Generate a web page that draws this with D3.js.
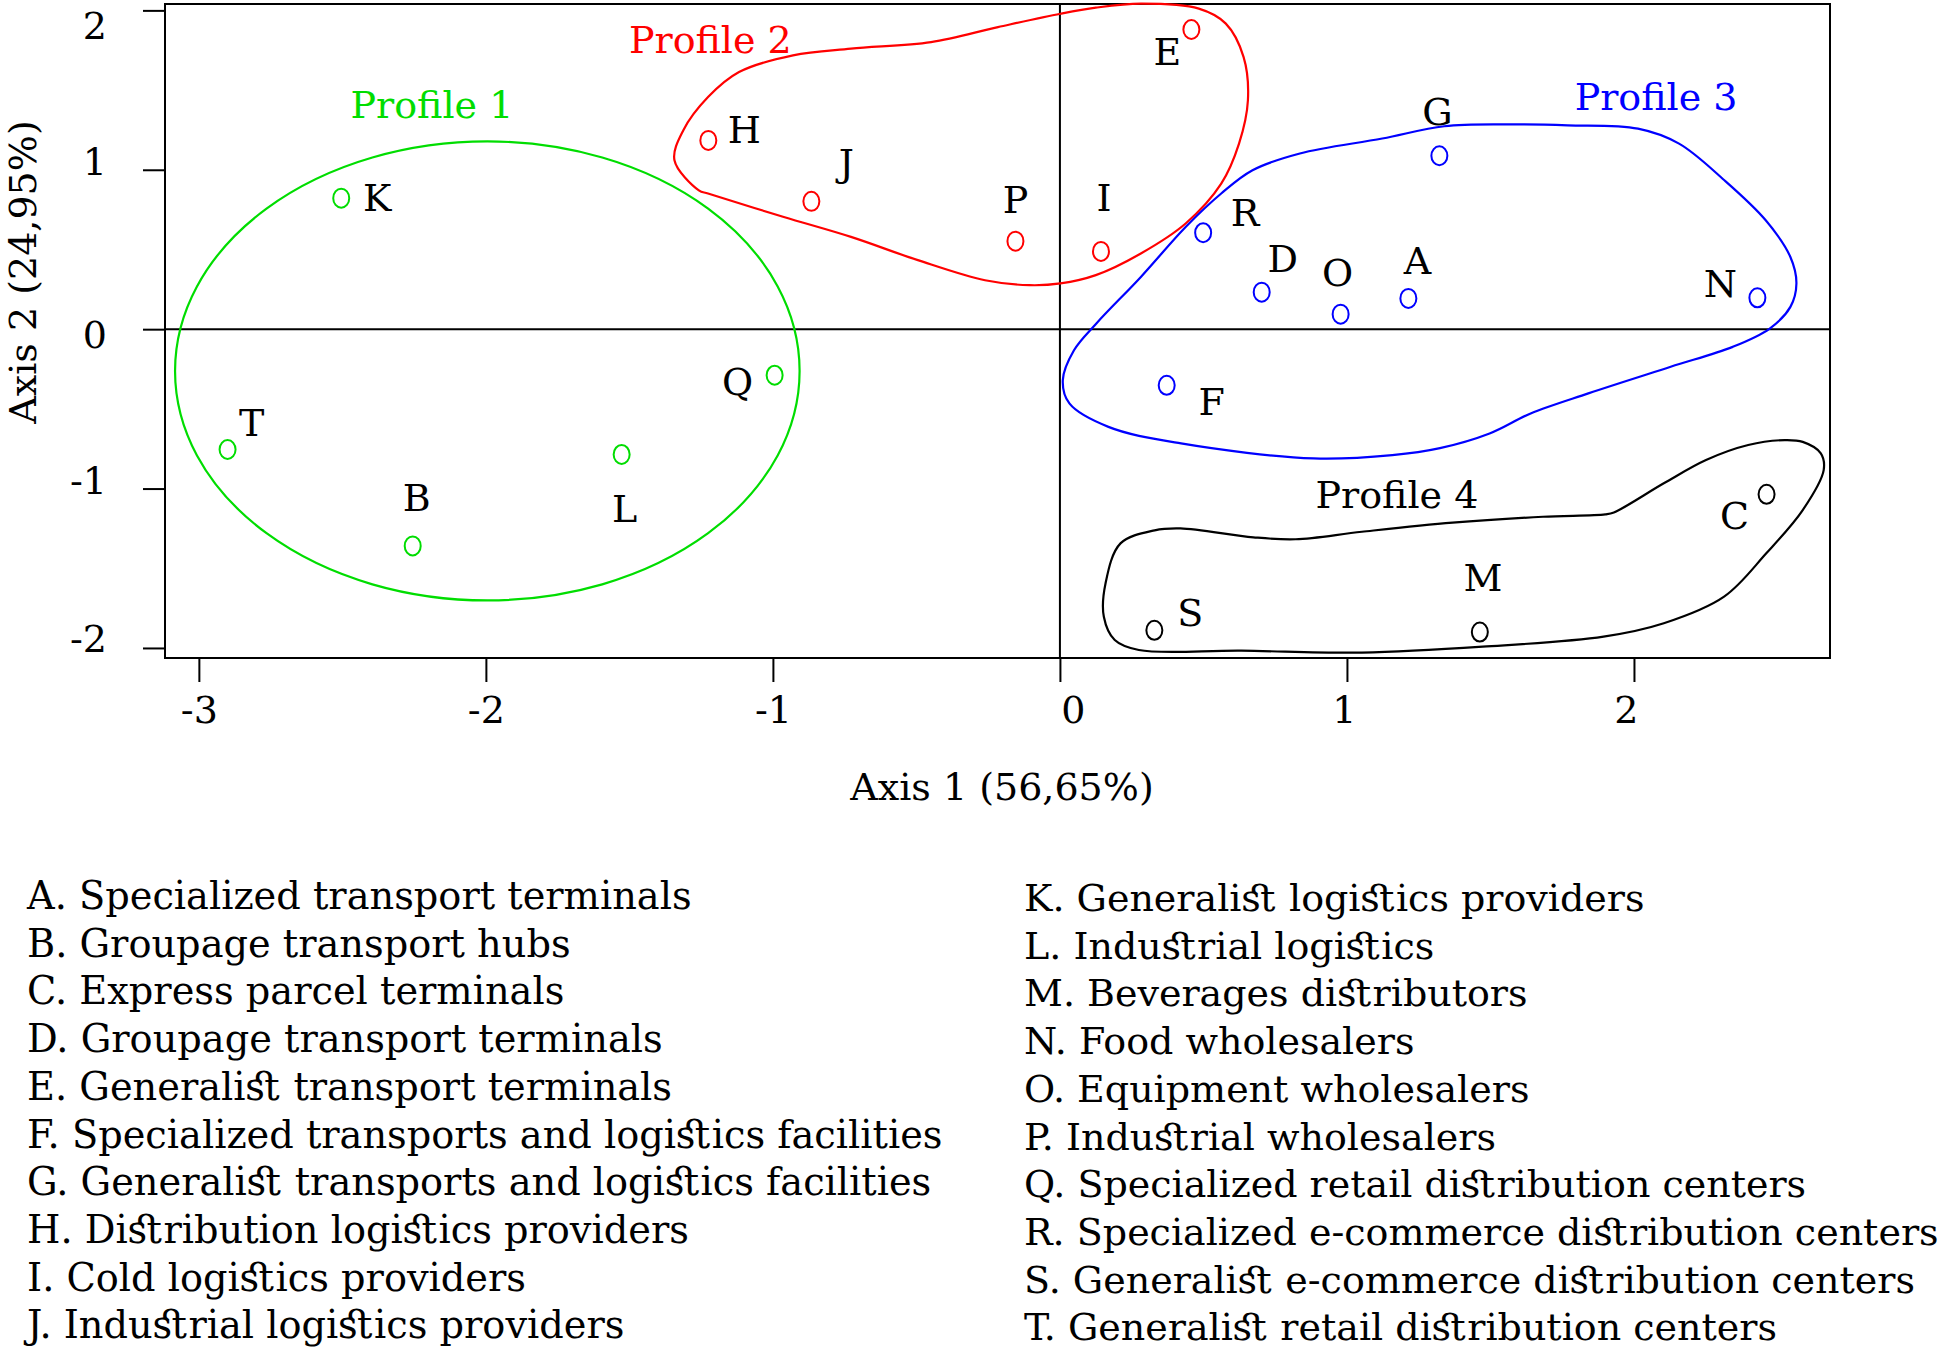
<!DOCTYPE html>
<html>
<head>
<meta charset="utf-8">
<script src="https://cdn.jsdelivr.net/npm/d3@7"></script>
<style>
  html, body { margin: 0; padding: 0; background: #fff; }
  svg { display: block; }
  text { font-family: "DejaVu Serif", serif; font-feature-settings: "liga" 1, "dlig" 1, "hlig" 1; }
</style>
</head>
<body>
<svg id="chart" width="1946" height="1350"></svg>
<script>
// ---------------- DATA ----------------
const letters = ["A","B","C","D","E","F","G","H","I","J","K","L","M","N","O","P","Q","R","S","T"];
const axis1Values = [1.214,-2.255,2.462,0.703,0.458,0.372,1.322,-1.225,0.143,-0.866,-2.504,-1.527,1.463,2.430,0.978,-0.155,-0.994,0.499,0.329,-2.900];
const axis2Values = [0.193,-1.360,-1.036,0.232,1.880,-0.352,1.088,1.184,0.488,0.802,0.822,-0.786,-1.900,0.197,0.094,0.552,-0.289,0.605,-1.889,-0.755];
const profileOf   = [3,1,4,3,2,3,3,2,2,2,1,1,4,3,3,2,1,3,4,1];

const descriptions = [
  "Specialized transport terminals",
  "Groupage transport hubs",
  "Express parcel terminals",
  "Groupage transport terminals",
  "Generalist transport terminals",
  "Specialized transports and logistics facilities",
  "Generalist transports and logistics facilities",
  "Distribution logistics providers",
  "Cold logistics providers",
  "Industrial logistics providers",
  "Generalist logistics providers",
  "Industrial logistics",
  "Beverages distributors",
  "Food wholesalers",
  "Equipment wholesalers",
  "Industrial wholesalers",
  "Specialized retail distribution centers",
  "Specialized e-commerce distribution centers",
  "Generalist e-commerce distribution centers",
  "Generalist retail distribution centers"
];

const xTicks = [-3,-2,-1,0,1,2];
const yTicks = [-2,-1,0,1,2];
const xTitle = "Axis 1 (56,65%)";
const yTitle = "Axis 2 (24,95%)";

const profileNames = ["Profile 1","Profile 2","Profile 3","Profile 4"];
const profileLabelX = [-2.188,-1.218,2.077,1.174];
const profileLabelY = [1.411,1.818,1.461,-1.034];

// Profile 1 outline: ellipse (centre and radii in axis units)
const profile1Ellipse = {cx:-1.995, cy:-0.262, rx:1.088, ry:1.44};
// Profiles 2-4 outlines (axis units)
const profile2Outline = [
  [-1.343,1.06],[-1.258,0.871],[-1.226,0.851],[-0.962,0.704],[-0.728,0.579],[-0.495,0.433],
  [-0.261,0.307],[-0.106,0.276],[0.002,0.287],[0.125,0.339],[0.282,0.475],[0.438,0.663],
  [0.562,0.913],[0.624,1.164],[0.655,1.436],[0.640,1.707],[0.578,1.917],[0.484,2.011],
  [0.282,2.042],[0.125,2.017],[0.002,1.979],[-0.216,1.895],[-0.449,1.801],[-0.728,1.760],
  [-0.930,1.718],[-1.118,1.613],[-1.226,1.456],[-1.312,1.248]
];
const profile3Outline = [
  [0.010,-0.320],[0.049,-0.132],[0.127,0.036],[0.282,0.328],[0.438,0.641],[0.562,0.851],
  [0.671,0.997],[0.836,1.102],[1.123,1.196],[1.339,1.273],[1.554,1.285],[1.769,1.279],
  [2.014,1.258],[2.157,1.164],[2.315,0.934],[2.459,0.683],[2.545,0.453],[2.566,0.287],
  [2.545,0.140],[2.473,0.004],[2.344,-0.111],[2.128,-0.236],[1.841,-0.403],[1.640,-0.529],
  [1.497,-0.654],[1.324,-0.746],[1.158,-0.790],[0.884,-0.811],[0.422,-0.717],[0.169,-0.613],
  [0.033,-0.466]
];
const profile4Outline = [
  [0.330,-1.262],[0.211,-1.344],[0.159,-1.594],[0.153,-1.804],[0.191,-1.950],[0.275,-2.013],
  [0.632,-2.017],[1.052,-2.029],[1.473,-1.992],[1.894,-1.929],[2.104,-1.845],[2.314,-1.678],
  [2.461,-1.406],[2.588,-1.135],[2.661,-0.884],[2.651,-0.779],[2.588,-0.707],[2.525,-0.696],
  [2.398,-0.727],[2.251,-0.821],[2.104,-0.967],[1.930,-1.150],[1.900,-1.162],[1.683,-1.177],
  [1.368,-1.214],[1.052,-1.271],[0.821,-1.318],[0.674,-1.306],[0.420,-1.250]
];

// plotting frame extent (axis units)
const xExtent = [-3.118, 2.683];
const yExtent = [-2.063, 2.040];

// ---------------- LAYOUT / STYLE ----------------
const profileColors = {1:"#00dd00", 2:"#ff0000", 3:"#0000ff", 4:"#000000"};
const labelOffsets = {
  A:[9,-38], B:[4,-49], C:[-32,21], D:[21,-34], E:[-24,22], F:[45,16], G:[-2,-44],
  H:[36,-11], I:[3,-54], J:[35,-39], K:[36,-1], L:[3,54], M:[3,-55], N:[-37,-14],
  O:[-3,-42], P:[0,-42], Q:[-37,6], R:[42,-20], S:[36,-18], T:[24,-27]
};
const yTickNudge = {"2":16, "1":-7, "0":6, "-1":-7, "-2":-9};
const xTickNudge = {"0":13, "1":-3, "2":-8};
const FS = 38;

const svg = d3.select("#chart");
svg.append("rect").attr("width",1946).attr("height",1350).attr("fill","#fff");

const x = d3.scaleLinear().domain(xExtent).range([165, 1830]);
const y = d3.scaleLinear().domain(yExtent).range([658, 4]);

// frame
svg.append("rect")
  .attr("x", x(xExtent[0])).attr("y", y(yExtent[1]))
  .attr("width", x(xExtent[1]) - x(xExtent[0]))
  .attr("height", y(yExtent[0]) - y(yExtent[1]))
  .attr("fill","none").attr("stroke","#000").attr("stroke-width",2);

// zero lines
svg.append("line").attr("x1",x(0)).attr("x2",x(0)).attr("y1",y(yExtent[0])).attr("y2",y(yExtent[1]))
  .attr("stroke","#000").attr("stroke-width",2);
svg.append("line").attr("x1",x(xExtent[0])).attr("x2",x(xExtent[1])).attr("y1",y(0)).attr("y2",y(0))
  .attr("stroke","#000").attr("stroke-width",2);

// axes
const gx = svg.append("g").attr("transform",`translate(0,${y(yExtent[0])})`)
  .call(d3.axisBottom(x).tickValues(xTicks).tickSize(24).tickPadding(14).tickFormat(d3.format("d")));
const gy = svg.append("g").attr("transform",`translate(${x(xExtent[0])},0)`)
  .call(d3.axisLeft(y).tickValues(yTicks).tickSize(22).tickPadding(36).tickFormat(d3.format("d")));
[gx, gy].forEach(g => {
  g.select(".domain").remove();
  g.selectAll(".tick line").attr("stroke","#000").attr("stroke-width",2);
  g.selectAll(".tick text").attr("font-family","DejaVu Serif").attr("font-size",FS).attr("fill","#000");
});
gx.selectAll(".tick text").text(d => d < 0 ? "-" + Math.abs(d) : d)
  .attr("dx", d => xTickNudge[String(d)] || 0);
gy.selectAll(".tick text").text(d => d < 0 ? "-" + Math.abs(d) : d)
  .attr("transform", d => `translate(0,${yTickNudge[String(d)] || 0})`);

// axis titles
svg.append("text").attr("x", 1002).attr("y", 800).attr("text-anchor","middle")
  .attr("font-size",FS).text(xTitle);
svg.append("text").attr("transform","translate(36,272) rotate(-90)").attr("text-anchor","middle")
  .attr("font-size",FS).text(yTitle);

// profile outlines
const outlineLine = d3.line().x(d => x(d[0])).y(d => y(d[1])).curve(d3.curveCatmullRomClosed.alpha(0.5));
svg.append("ellipse")
  .attr("cx", x(profile1Ellipse.cx)).attr("cy", y(profile1Ellipse.cy))
  .attr("rx", x(profile1Ellipse.cx + profile1Ellipse.rx) - x(profile1Ellipse.cx))
  .attr("ry", y(profile1Ellipse.cy) - y(profile1Ellipse.cy + profile1Ellipse.ry))
  .attr("fill","none").attr("stroke",profileColors[1]).attr("stroke-width",2.2);
[[profile2Outline,2],[profile3Outline,3],[profile4Outline,4]].forEach(([pts,p]) => {
  svg.append("path").attr("d", outlineLine(pts))
    .attr("fill","none").attr("stroke",profileColors[p]).attr("stroke-width",2.2);
});

// profile labels
profileNames.forEach((n,i) => {
  svg.append("text").attr("x", x(profileLabelX[i])).attr("y", y(profileLabelY[i]))
    .attr("dy","0.36em").attr("text-anchor","middle").attr("font-size",FS)
    .attr("fill", profileColors[i+1]).text(n);
});

// points
const pts = letters.map((l,i) => ({l, x:axis1Values[i], y:axis2Values[i], p:profileOf[i]}));
svg.append("g").selectAll("ellipse").data(pts).join("ellipse")
  .attr("cx", d => x(d.x)).attr("cy", d => y(d.y))
  .attr("rx", 8).attr("ry", 9.5)
  .attr("fill","none").attr("stroke", d => profileColors[d.p]).attr("stroke-width",2);
svg.append("g").selectAll("text").data(pts).join("text")
  .attr("x", d => x(d.x) + labelOffsets[d.l][0])
  .attr("y", d => y(d.y) + labelOffsets[d.l][1])
  .attr("dy","0.36em").attr("text-anchor","middle").attr("font-size",FS).attr("fill","#000")
  .text(d => d.l);

// legend
const legend = svg.append("g");
letters.forEach((l,i) => {
  const col = i < 10 ? 0 : 1;
  const row = i % 10;
  const lx = col === 0 ? 27 : 1024;
  const ly = (col === 0 ? 909 : 911) + row * 47.7;
  legend.append("text").attr("x", lx).attr("y", ly).attr("font-size", col === 0 ? 38.3 : 38)
    .attr("fill","#000")
    .text(`${l}. ${descriptions[i]}`);
});
</script>
</body>
</html>
